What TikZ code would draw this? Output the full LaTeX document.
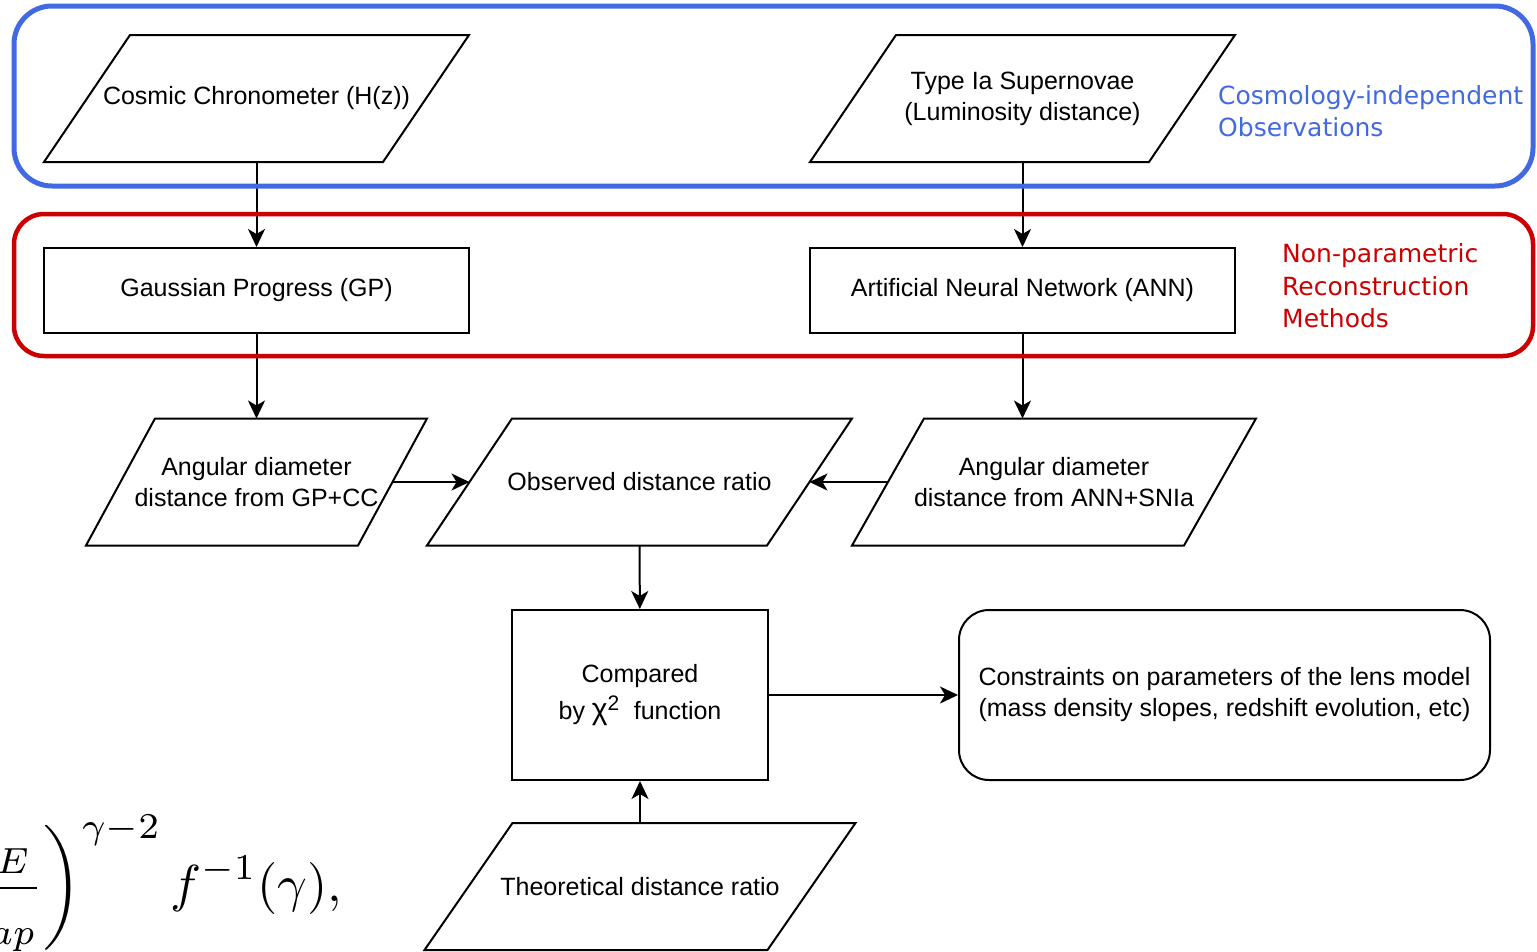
\documentclass[tikz,border=0pt]{standalone}
\usepackage[no-math]{fontspec}
\setmainfont{Liberation Sans}
\newfontfamily\groupfont{DejaVu Sans}
\usetikzlibrary{arrows.meta}
\definecolor{obsblue}{RGB}{65,105,225}
\definecolor{recred}{RGB}{204,0,0}
\begin{document}
\begin{tikzpicture}[x=1pt, y=-1pt,
    every node/.style={font=\fontsize{25}{31}\selectfont, align=center},
    dataset/.style={rectangle, inner sep=0pt, outer sep=0pt, minimum height=127pt},
    method/.style={rectangle, draw, line width=2pt, minimum width=425pt, minimum height=85pt},
    groupbox/.style={rectangle, draw, minimum width=1519pt},
    grouplabel/.style={anchor=west, inner sep=0pt, align=left, font=\groupfont\fontsize{25}{32.5}\selectfont},
    flow/.style={line width=2pt, -{Stealth[length=18pt,width=17pt,inset=5pt]}}]
   \useasboundingbox (0,0) rectangle (1537,951);
   % inputs
   \node[dataset, minimum width=339pt] (CC) at (256.5,98.5) {Cosmic Chronometer (H(z))};
   \node[dataset, minimum width=339pt] (SN) at (1022.5,98.5) {Type Ia Supernovae\\(Luminosity distance)};
   % reconstruction
   \node[method] (GP) at (256.5,290.5) {Gaussian Progress (GP)};
   \node[method] (ANN) at (1022.5,290.5) {Artificial Neural Network (ANN)};
   % distances
   \node[dataset, minimum width=272pt] (DA1) at (256.5,482) {Angular diameter\\distance from GP+CC};
   \node[dataset, minimum width=340pt] (obs) at (639.5,482) {Observed distance ratio};
   \node[dataset, minimum width=332pt] (DA2) at (1054,482) {Angular diameter\\distance from ANN+SNIa};
   \node[rectangle, draw, line width=2pt, minimum width=256pt, minimum height=170pt] (chi) at (640,695)
     {Compared\\[6pt]by {\fontsize{30}{31}\selectfont χ\textsuperscript{2}}\ \ function};
   \node[dataset, minimum width=343pt] (theo) at (640,886.5) {Theoretical distance ratio};
   \node[rectangle, rounded corners=30pt, draw, line width=2pt, minimum width=531pt, minimum height=170pt] (lens) at (1224.5,695)
     {Constraints on parameters of the lens model\\(mass density slopes, redshift evolution, etc)};
   % parallelogram outlines
   \foreach \n/\s in {CC/43, SN/43, DA1/34.5, obs/42.5, DA2/36, theo/44}
     \draw[line width=2pt] ([xshift=\s pt]\n.north west) -- ([xshift=\s pt]\n.north east)
       -- ([xshift=-\s pt]\n.south east) -- ([xshift=-\s pt]\n.south west) -- cycle;
   % arrows
   \draw[flow] (CC) -- (GP);
   \draw[flow] (SN) -- (ANN);
   \draw[flow] (GP) -- (DA1);
   \draw[flow] (ANN.south) -- (ANN.south |- DA2.north);
   \draw[flow] (DA1.east) -- (obs.west);
   \draw[flow] (DA2.west) -- (obs.east);
   \draw[flow] (obs) -- (chi);
   \draw[flow] (theo) -- (chi);
   \draw[flow] (chi) -- (lens);
   % groups
   \node[groupbox, draw=obsblue, line width=5pt, rounded corners=38pt, minimum height=180pt] (obsgroup) at (773.5,96) {};
   \node[groupbox, draw=recred, line width=4.5pt, rounded corners=30pt, minimum height=142pt] (recgroup) at (773.5,285) {};
   \node[grouplabel, text=obsblue] (obslabel) at (1218,111) {Cosmology-independent\\Observations};
   \node[grouplabel, text=recred] (reclabel) at (1282,286) {Non-parametric\\Reconstruction\\Methods};
   % cut formula
   \begin{scope}
     \clip (0,0) rectangle (1537,951);
     \node[anchor=base east, inner sep=0pt, font=\fontsize{10}{12}\selectfont, scale=5.2] (lensformula) at (343,901)
       {$\displaystyle\left(\frac{\theta_E}{\theta_{ap}}\right)^{\gamma-2} f^{-1}(\gamma),$};
   \end{scope}
 \end{tikzpicture}
\end{document}
